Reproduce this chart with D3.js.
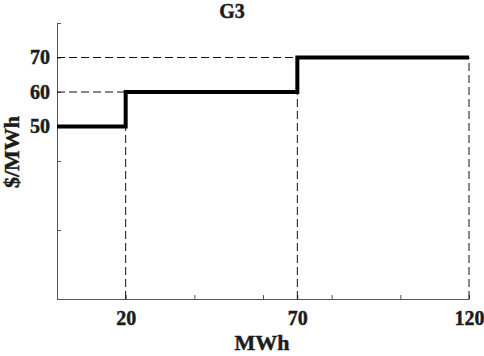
<!DOCTYPE html>
<html>
<head>
<meta charset="utf-8">
<script src="https://cdn.jsdelivr.net/npm/d3@7"></script>
<style>
  html, body { margin: 0; padding: 0; background: #fff; }
  svg { display: block; }
</style>
</head>
<body>
<svg id="chart" width="484" height="356"></svg>
<script>
// Supply offer blocks of unit G3: quantity breakpoints (MWh) and price ($/MWh)
const blockStart = [0, 20, 70];
const blockEnd = [20, 70, 120];
const blockPrice = [50, 60, 70];

// Axis ticks and which ones carry labels
const xTicks = [0, 20, 40, 60, 70, 80, 100, 120];
const xTickLabels = [20, 70, 120];
const yTicks = [0, 20, 40, 50, 60, 70, 80];
const yTickLabels = [50, 60, 70];

const title = "G3";
const xTitle = "MWh";
const yTitle = "$/MWh";

const serif = "'Liberation Serif', 'Times New Roman', Times, serif";
const ink = "#1c1c1c";

const svg = d3.select("#chart");
const x = d3.scaleLinear().domain([0, 120]).range([57, 469]);
const y = d3.scaleLinear().domain([0, 80]).range([299, 23]);

// Heavy serif text used for every label
const heavy = sel => sel
  .style("font-family", serif)
  .style("font-weight", "bold")
  .attr("fill", ink)
  .attr("stroke", ink)
  .attr("stroke-width", 0.45);

// Axes with inward ticks
const xAxis = d3.axisBottom(x)
  .tickValues(xTicks)
  .tickSizeInner(-4).tickSizeOuter(0)
  .tickFormat(d => xTickLabels.includes(d) ? d : "");
const yAxis = d3.axisLeft(y)
  .tickValues(yTicks)
  .tickSizeInner(-4).tickSizeOuter(0)
  .tickFormat(d => yTickLabels.includes(d) ? d : "");

const gx = svg.append("g").attr("transform", `translate(0,${y(0)})`).call(xAxis);
const gy = svg.append("g").attr("transform", `translate(${x(0)},0)`).call(yAxis);

[gx, gy].forEach(g => {
  g.attr("font-family", null).attr("font-size", null);
  g.select(".domain").attr("stroke", "#555").attr("stroke-width", 1);
  g.selectAll(".tick line").attr("stroke", "#555");
  g.selectAll(".tick text").call(heavy).style("font-size", "20px");
});
gx.selectAll(".tick text").attr("y", 8).attr("dy", "0.9em");
gy.selectAll(".tick text").attr("x", -7).attr("dy", "0.32em");

// Dashed guide lines: price levels to the axis and block edges down to zero
const guides = svg.append("g")
  .attr("stroke", "#111").attr("stroke-width", 1)
  .attr("stroke-dasharray", "8,4").attr("fill", "none");

blockPrice.forEach((p, i) => {
  if (i > 0) {
    guides.append("line")
      .attr("x1", x(0)).attr("x2", x(blockStart[i]))
      .attr("y1", y(p)).attr("y2", y(p));
  }
  guides.append("line")
    .attr("x1", x(blockEnd[i])).attr("x2", x(blockEnd[i]))
    .attr("y1", y(0)).attr("y2", y(p));
});

// Step offer curve
const stepPts = [];
blockPrice.forEach((p, i) => {
  stepPts.push([blockStart[i], p]);
  stepPts.push([blockEnd[i], p]);
});
svg.append("path")
  .datum(stepPts)
  .attr("fill", "none")
  .attr("stroke", "#000")
  .attr("stroke-width", 4)
  .attr("stroke-linejoin", "miter")
  .attr("d", d3.line().x(d => x(d[0])).y(d => y(d[1])));

// Titles
const label = (s, size) => svg.append("text")
  .call(heavy)
  .style("font-size", size + "px")
  .attr("text-anchor", "middle")
  .text(s);

label(title, 20).attr("x", 232).attr("y", 18);
label(xTitle, 22).attr("x", 262).attr("y", 350);
label(yTitle, 22).attr("transform", "translate(19,152) rotate(-90)");
</script>
</body>
</html>
